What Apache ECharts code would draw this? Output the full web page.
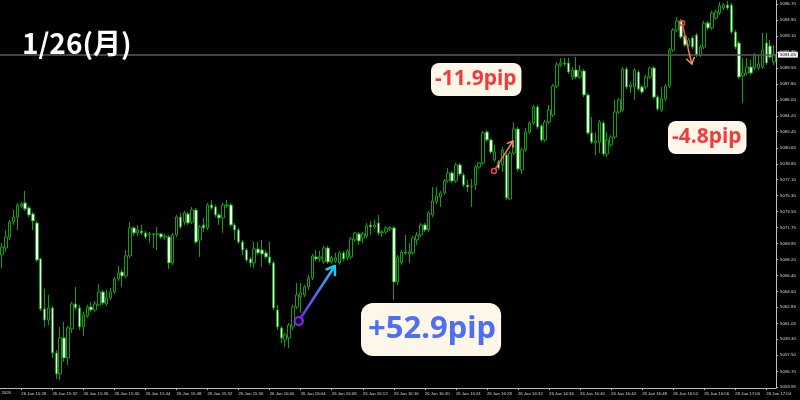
<!DOCTYPE html>
<html>
<head>
<meta charset="utf-8">
<script src="https://cdn.jsdelivr.net/npm/echarts@6/dist/echarts.min.js"></script>
<style>
  html, body { margin: 0; padding: 0; background: #000; }
  #chart { width: 800px; height: 400px; }
</style>
</head>
<body>
<div id="chart"></div>
<script>
// 30-second bars, 26 Jan 15:25:30 .. 17:05:00
const firstBar = [15, 25, 30];
const barCount = 200;

const opens = [
  5068.69, 5069.47, 5070.70, 5072.37, 5072.93, 5074.16, 5074.50, 5073.94, 5073.27, 5072.26,
  5068.25, 5062.67, 5061.44, 5062.78, 5057.76, 5055.41, 5059.43, 5057.20, 5060.43, 5063.22,
  5062.78, 5060.66, 5061.88, 5062.89, 5062.55, 5063.11, 5064.56, 5063.22, 5063.89, 5064.56,
  5066.01, 5066.79, 5066.35, 5068.58, 5071.71, 5071.15, 5071.37, 5071.15, 5070.92, 5070.98,
  5071.00, 5071.04, 5070.70, 5070.70, 5067.80, 5070.92, 5072.93, 5072.37, 5073.27, 5072.37,
  5073.71, 5070.37, 5072.04, 5071.71, 5074.27, 5074.05, 5073.16, 5072.82, 5074.16, 5074.27,
  5072.04, 5071.48, 5070.14, 5069.25, 5068.25, 5067.80, 5069.36, 5069.25, 5068.92, 5068.47,
  5067.80, 5062.55, 5060.55, 5059.21, 5059.43, 5060.66, 5062.89, 5064.00, 5064.23, 5065.12,
  5066.13, 5068.47, 5068.25, 5067.91, 5069.47, 5067.91, 5068.02, 5067.80, 5068.92, 5068.36,
  5068.47, 5070.37, 5071.04, 5070.59, 5070.81, 5072.04, 5071.82, 5072.26, 5071.15, 5071.26,
  5071.59, 5071.71, 5065.68, 5067.80, 5069.03, 5068.80, 5068.92, 5070.37, 5070.92, 5072.04,
  5071.48, 5073.16, 5074.61, 5075.16, 5075.61, 5076.95, 5077.84, 5076.95, 5078.74, 5077.62,
  5076.50, 5076.39, 5076.50, 5078.51, 5078.96, 5082.42, 5081.53, 5079.29, 5079.07, 5078.74,
  5079.85, 5074.94, 5080.07, 5082.75, 5078.18, 5080.41, 5082.42, 5083.42, 5085.21, 5083.09,
  5081.53, 5083.53, 5084.32, 5087.55, 5089.90, 5090.12, 5090.12, 5088.56, 5089.34, 5088.56,
  5089.23, 5086.55, 5082.31, 5081.19, 5081.30, 5083.42, 5079.96, 5080.97, 5081.86, 5084.65,
  5084.87, 5089.45, 5087.44, 5087.44, 5089.11, 5087.44, 5087.44, 5088.56, 5089.56, 5086.32,
  5084.87, 5086.10, 5087.55, 5091.57, 5093.80, 5094.81, 5093.13, 5092.13, 5092.91, 5093.24,
  5091.01, 5091.90, 5094.58, 5094.03, 5095.14, 5095.70, 5096.26, 5096.59, 5096.59, 5093.58,
  5092.35, 5088.67, 5089.00, 5089.67, 5089.56, 5089.56, 5089.67, 5092.35, 5092.02, 5090.23
];
const closes = [
  5069.58, 5070.70, 5072.37, 5072.93, 5074.27, 5074.38, 5073.83, 5073.16, 5072.49, 5068.13,
  5062.67, 5061.44, 5062.78, 5057.76, 5055.41, 5059.43, 5057.20, 5060.55, 5063.22, 5062.78,
  5060.66, 5062.00, 5062.89, 5062.55, 5063.22, 5064.56, 5063.34, 5063.89, 5064.56, 5066.01,
  5066.68, 5066.35, 5068.58, 5071.71, 5071.15, 5071.48, 5071.15, 5070.70, 5071.04, 5071.04,
  5071.04, 5070.70, 5070.81, 5067.80, 5070.92, 5072.93, 5071.82, 5073.38, 5072.26, 5073.71,
  5070.14, 5071.82, 5071.71, 5074.27, 5073.94, 5073.16, 5072.82, 5074.27, 5074.27, 5072.04,
  5071.48, 5070.14, 5069.25, 5068.13, 5067.80, 5069.36, 5068.92, 5068.80, 5068.47, 5067.80,
  5062.78, 5060.66, 5059.43, 5059.76, 5060.88, 5062.89, 5064.23, 5064.45, 5065.12, 5066.13,
  5068.58, 5068.25, 5068.47, 5069.47, 5067.91, 5068.36, 5068.36, 5068.92, 5068.25, 5069.14,
  5070.48, 5071.15, 5070.25, 5071.04, 5071.93, 5071.82, 5072.04, 5071.15, 5071.26, 5071.71,
  5071.71, 5065.68, 5068.47, 5069.03, 5068.92, 5069.03, 5070.59, 5070.92, 5072.04, 5071.48,
  5073.38, 5074.72, 5075.28, 5075.61, 5076.95, 5077.84, 5076.95, 5078.74, 5077.73, 5076.50,
  5076.28, 5076.33, 5078.51, 5078.96, 5082.31, 5081.53, 5080.19, 5080.19, 5078.40, 5080.41,
  5075.05, 5080.07, 5082.75, 5078.29, 5080.41, 5082.42, 5083.42, 5085.21, 5082.98, 5081.53,
  5083.53, 5084.87, 5087.55, 5089.90, 5090.12, 5090.01, 5089.11, 5089.34, 5088.56, 5089.23,
  5086.55, 5082.31, 5081.30, 5081.41, 5083.53, 5079.96, 5081.53, 5081.86, 5084.65, 5085.99,
  5089.45, 5087.44, 5087.66, 5089.34, 5087.22, 5086.88, 5088.56, 5089.56, 5086.32, 5084.99,
  5086.10, 5087.55, 5091.57, 5093.80, 5094.81, 5093.02, 5092.13, 5092.69, 5091.90, 5091.01,
  5091.90, 5094.58, 5094.03, 5095.70, 5095.81, 5096.48, 5096.59, 5096.26, 5093.58, 5091.90,
  5088.56, 5089.00, 5089.67, 5089.00, 5091.01, 5090.01, 5091.57, 5090.12, 5090.79, 5091.05
];
const lows = [
  5067.24, 5069.03, 5070.37, 5072.04, 5071.48, 5073.94, 5073.60, 5072.93, 5071.48, 5067.91,
  5062.44, 5060.66, 5060.88, 5057.20, 5054.85, 5054.74, 5056.75, 5056.42, 5059.99, 5062.55,
  5060.32, 5059.65, 5061.66, 5062.33, 5062.33, 5063.00, 5063.11, 5063.00, 5063.67, 5064.34,
  5065.79, 5065.12, 5066.13, 5068.36, 5070.81, 5070.81, 5070.92, 5070.48, 5070.03, 5069.47,
  5069.25, 5070.48, 5070.37, 5067.13, 5067.58, 5070.70, 5071.59, 5072.04, 5072.04, 5072.15,
  5069.92, 5068.47, 5071.26, 5071.48, 5073.71, 5072.93, 5072.04, 5071.15, 5073.94, 5071.82,
  5070.37, 5069.92, 5068.69, 5067.91, 5067.35, 5067.24, 5068.69, 5067.35, 5068.25, 5067.58,
  5062.55, 5060.32, 5058.87, 5058.42, 5058.31, 5060.32, 5062.67, 5062.22, 5064.00, 5064.79,
  5065.90, 5068.02, 5067.91, 5067.69, 5067.69, 5067.69, 5067.80, 5067.58, 5068.02, 5068.13,
  5068.25, 5070.14, 5069.81, 5070.03, 5070.59, 5070.92, 5071.59, 5070.92, 5070.70, 5071.04,
  5071.37, 5063.67, 5065.34, 5067.58, 5068.69, 5067.80, 5068.69, 5069.81, 5070.70, 5071.26,
  5071.26, 5072.93, 5074.38, 5074.05, 5075.39, 5076.73, 5076.73, 5076.73, 5077.51, 5076.28,
  5075.72, 5074.05, 5075.95, 5078.29, 5078.74, 5081.30, 5079.96, 5079.07, 5078.18, 5077.96,
  5074.83, 5074.83, 5079.85, 5077.96, 5077.73, 5080.19, 5082.20, 5083.20, 5082.75, 5081.30,
  5081.30, 5083.31, 5084.09, 5087.33, 5089.67, 5089.78, 5088.89, 5088.22, 5088.33, 5088.33,
  5086.32, 5082.09, 5081.08, 5079.85, 5080.07, 5079.74, 5079.63, 5080.74, 5081.64, 5084.43,
  5084.65, 5087.22, 5086.77, 5085.99, 5086.99, 5086.66, 5087.22, 5088.33, 5086.10, 5084.76,
  5084.65, 5085.88, 5087.33, 5091.35, 5093.58, 5092.80, 5091.90, 5091.90, 5091.68, 5090.79,
  5090.79, 5091.68, 5093.80, 5093.80, 5094.92, 5095.48, 5096.03, 5096.03, 5093.36, 5091.68,
  5088.33, 5085.66, 5088.78, 5088.78, 5089.34, 5089.34, 5089.45, 5089.90, 5090.57, 5089.90
];
const highs = [
  5070.03, 5071.48, 5072.60, 5073.71, 5074.50, 5074.61, 5075.83, 5074.16, 5073.49, 5072.49,
  5068.36, 5064.90, 5064.23, 5063.00, 5058.09, 5060.66, 5061.21, 5060.77, 5063.45, 5065.12,
  5063.11, 5062.33, 5063.11, 5063.45, 5063.56, 5065.46, 5064.79, 5064.79, 5065.01, 5066.24,
  5067.46, 5067.02, 5069.25, 5072.37, 5071.93, 5072.04, 5072.04, 5071.37, 5071.26, 5071.15,
  5071.82, 5071.15, 5071.04, 5070.92, 5071.15, 5073.16, 5073.38, 5073.60, 5073.49, 5074.05,
  5073.94, 5072.04, 5072.82, 5074.50, 5074.83, 5074.27, 5073.38, 5074.50, 5074.83, 5074.50,
  5072.26, 5071.71, 5070.37, 5069.47, 5068.47, 5070.14, 5070.14, 5070.37, 5069.25, 5070.14,
  5068.02, 5063.11, 5060.77, 5059.99, 5061.10, 5063.11, 5065.57, 5065.57, 5065.34, 5066.46,
  5068.80, 5069.25, 5069.14, 5069.70, 5069.70, 5068.58, 5068.92, 5069.14, 5069.14, 5069.36,
  5070.70, 5071.26, 5071.26, 5071.26, 5072.26, 5072.49, 5072.60, 5073.16, 5071.48, 5071.93,
  5071.93, 5071.93, 5068.69, 5069.25, 5070.92, 5070.03, 5070.81, 5071.26, 5072.26, 5072.26,
  5073.60, 5076.28, 5076.28, 5075.83, 5077.17, 5078.40, 5078.07, 5078.96, 5078.96, 5077.84,
  5077.06, 5077.17, 5078.74, 5079.07, 5082.53, 5082.64, 5081.75, 5080.97, 5079.29, 5080.74,
  5080.07, 5080.30, 5083.53, 5082.98, 5080.63, 5082.87, 5083.65, 5085.43, 5085.43, 5083.31,
  5083.76, 5085.43, 5087.78, 5090.23, 5090.68, 5090.68, 5090.68, 5089.67, 5090.79, 5089.90,
  5089.45, 5086.77, 5084.09, 5082.31, 5083.76, 5083.65, 5082.42, 5082.09, 5085.99, 5086.21,
  5089.67, 5089.67, 5088.00, 5089.56, 5089.34, 5087.66, 5088.78, 5089.67, 5089.78, 5086.55,
  5087.44, 5087.78, 5091.79, 5094.03, 5095.25, 5095.03, 5093.36, 5092.91, 5093.13, 5093.47,
  5092.13, 5094.81, 5094.81, 5095.92, 5096.03, 5096.93, 5096.82, 5097.04, 5096.82, 5093.80,
  5092.57, 5090.68, 5090.68, 5090.45, 5091.24, 5091.01, 5093.47, 5093.47, 5092.69, 5092.13
];

// right price scale labels, bottom to top
const yTickLabels = [
  '5053.95', '5055.70', '5057.50', '5059.30', '5061.05', '5062.85', '5064.60', '5066.40',
  '5068.20', '5069.95', '5071.75', '5073.55', '5075.30', '5077.10', '5078.85', '5080.65',
  '5082.45', '5084.20', '5086.00', '5087.80', '5089.55', '5091.35', '5093.10', '5094.90', '5096.70'
];

// annotation arrows: [bar index, price] from -> to
const arrowFrom = [[76.5, 5061.33], [126.8, 5078.07], [175.3, 5094.58]];
const arrowTo = [[85.8, 5067.46], [131.7, 5081.41], [177.8, 5090.01]];
const pipLabels = ['+52.9pip', '-11.9pip', '-4.8pip'];
const dateTitle = '1/26(月)';

const times = [];
for (let i = 0; i < barCount; i++) {
  const s = firstBar[0] * 3600 + firstBar[1] * 60 + firstBar[2] + i * 30;
  const hh = Math.floor(s / 3600), mm = Math.floor((s % 3600) / 60);
  times.push(hh + ':' + String(mm).padStart(2, '0'));
}
const candles = opens.map((o, i) => [o, closes[i], lows[i], highs[i]]);
const lastClose = closes[closes.length - 1];

const arrowStyles = [
  { c0: '#7a1fe6', c1: '#1ccaf4', w: 2.5, r: 4, head: 9 },
  { c0: '#f0443c', c1: '#f5915a', w: 1.5, r: 2.5, head: 6 },
  { c0: '#f0443c', c1: '#f5915a', w: 1.5, r: 2.5, head: 7 }
];

const labelTick = (i) => i >= 5 && (i - 5) % 8 === 0;

const chart = echarts.init(document.getElementById('chart'));
chart.setOption({
  backgroundColor: '#000',
  animation: false,
  grid: { left: 0, right: 24, top: 0, bottom: 12 },
  xAxis: {
    type: 'category',
    data: times,
    boundaryGap: true,
    axisLine: { lineStyle: { color: '#bbb', width: 1 } },
    axisTick: { show: true, interval: labelTick, alignWithLabel: true, length: 2, lineStyle: { color: '#bbb' } },
    axisLabel: {
      interval: labelTick,
      formatter: (v) => '26 Jan ' + v,
      align: 'left',
      color: '#d8d8d8',
      fontSize: 4.3,
      fontFamily: 'Liberation Sans',
      margin: 4
    },
    splitLine: { show: false }
  },
  yAxis: {
    type: 'value',
    position: 'right',
    scale: true,
    min: 5053.84,
    max: 5097.15,
    axisLine: { show: true, lineStyle: { color: '#bbb', width: 1 } },
    axisTick: { show: true, customValues: yTickLabels.map(Number), length: 2, lineStyle: { color: '#bbb' } },
    axisLabel: {
      customValues: yTickLabels.map(Number),
      formatter: (v) => v.toFixed(2),
      color: '#d8d8d8',
      fontSize: 4.4,
      fontFamily: 'Liberation Sans',
      margin: 4
    },
    splitLine: { show: false }
  },
  series: [
    {
      type: 'candlestick',
      data: candles,
      barWidth: 3,
      itemStyle: {
        color: '#000000',
        color0: '#f4fff4',
        borderColor: '#11a011',
        borderColor0: '#11a011',
        borderWidth: 1
      },
      markLine: {
        silent: true,
        symbol: 'none',
        animation: false,
        lineStyle: { color: '#5a5a5a', width: 1.5, type: 'solid' },
        label: {
          position: 'end',
          formatter: lastClose.toFixed(2),
          backgroundColor: '#f2f2f2',
          color: '#000',
          fontSize: 4.4,
          fontFamily: 'Liberation Sans',
          padding: [1, 2],
          distance: 2
        },
        data: [{ yAxis: lastClose }]
      }
    },
    {
      type: 'custom',
      data: arrowFrom.map((_, i) => [i, 5060]),
      z: 10,
      renderItem: (params, api) => {
        const i = params.dataIndex;
        const st = arrowStyles[i];
        const band = api.size([1, 0])[0];
        const px = (pt) => {
          const b = Math.floor(pt[0]);
          const c = api.coord([b, pt[1]]);
          return [c[0] + (pt[0] - b) * band, c[1]];
        };
        const p0 = px(arrowFrom[i]);
        const p1 = px(arrowTo[i]);
        const a = Math.atan2(p1[1] - p0[1], p1[0] - p0[0]);
        const h = st.head, sp = 0.6;
        const arm1 = [p1[0] - h * Math.cos(a - sp), p1[1] - h * Math.sin(a - sp)];
        const arm2 = [p1[0] - h * Math.cos(a + sp), p1[1] - h * Math.sin(a + sp)];
        const grad = {
          type: 'linear', x: p0[0], y: p0[1], x2: p1[0], y2: p1[1], global: true,
          colorStops: [{ offset: 0, color: st.c0 }, { offset: 1, color: st.c1 }]
        };
        const d0 = [p0[0] + st.r * Math.cos(a), p0[1] + st.r * Math.sin(a)];
        return {
          type: 'group',
          children: [
            { type: 'line', shape: { x1: d0[0], y1: d0[1], x2: p1[0], y2: p1[1] },
              style: { stroke: grad, lineWidth: st.w, lineCap: 'round' } },
            { type: 'polyline', shape: { points: [arm1, p1, arm2] },
              style: { stroke: st.c1, fill: null, lineWidth: st.w, lineCap: 'round', lineJoin: 'round' } },
            { type: 'circle', shape: { cx: p0[0], cy: p0[1], r: st.r },
              style: { stroke: st.c0, fill: 'rgba(0,0,0,0)', lineWidth: st.w } }
          ]
        };
      }
    }
  ],
  graphic: [
    { type: 'text', left: 22, top: 29, z: 20,
      style: { text: dateTitle, fill: '#fff', font: 'bold 28px "Noto Sans CJK JP"' } },
    { type: 'text', x: 11, y: 391, z: 20,
      style: { text: '26 Jan 2026', fill: '#d8d8d8', font: '4.3px "Liberation Sans"', align: 'right', verticalAlign: 'top' } },
    { type: 'text', x: 361, y: 303, z: 20,
      style: { text: pipLabels[0], fill: '#4f6ef5', font: 'bold 31px "Noto Sans"',
        backgroundColor: '#fdf7ea', borderRadius: 12, padding: [11, 5, 11, 7] } },
    { type: 'text', x: 431, y: 63, z: 20,
      style: { text: pipLabels[1], fill: '#f23c3c', font: 'bold 21px "Noto Sans"',
        backgroundColor: '#fdf7ea', borderRadius: 8, padding: [6, 5, 6, 4] } },
    { type: 'text', x: 668, y: 121, z: 20,
      style: { text: pipLabels[2], fill: '#f23c3c', font: 'bold 21px "Noto Sans"',
        backgroundColor: '#fdf7ea', borderRadius: 8, padding: [6, 5, 6, 4] } }
  ]
});
</script>
</body>
</html>
